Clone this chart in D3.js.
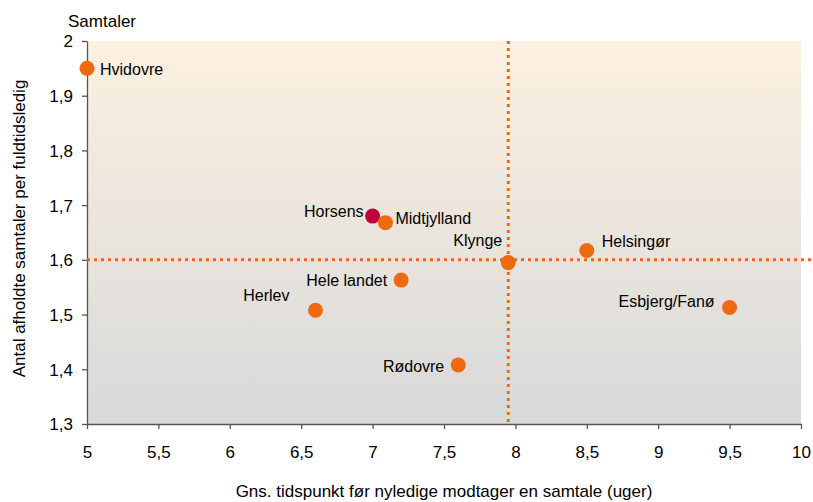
<!DOCTYPE html>
<html><head><meta charset="utf-8">
<script src="https://cdn.jsdelivr.net/npm/d3@7"></script>
<style>body{margin:0;background:#fff}svg{display:block;font-family:"Liberation Sans",Arial,sans-serif}</style>
</head><body><svg id="c" width="813" height="502"></svg>
<script>
const names = ["Hvidovre","Horsens","Midtjylland","Klynge","Helsingør","Hele landet","Herlev","Rødovre","Esbjerg/Fanø"];
const xValues = [5.0, 7.0, 7.09, 7.95, 8.5, 7.2, 6.6, 7.6, 9.5];
const yValues = [1.95, 1.68, 1.668, 1.595, 1.617, 1.563, 1.508, 1.408, 1.513];
const highlight = ["Horsens"];
const xTicks = [5,5.5,6,6.5,7,7.5,8,8.5,9,9.5,10];
const yTicks = [1.3,1.4,1.5,1.6,1.7,1.8,1.9,2];
const refX = 7.95, refY = 1.6;
// label placement: [dx, dy, anchor]
const labelPos = {
  "Hvidovre":[13,7,"start"],"Horsens":[-9,1,"end"],"Midtjylland":[10,1,"start"],
  "Klynge":[-6,-17,"end"],"Helsingør":[15,-4,"start"],"Hele landet":[-14,6,"end"],
  "Herlev":[-26,-9,"end"],"Rødovre":[-14,7,"end"],"Esbjerg/Fanø":[-15,0,"end"]
};
const svg = d3.select("#c");
const m = {l:87,r:801,t:41,b:424};
const x = d3.scaleLinear().domain([5,10]).range([m.l,m.r]);
const y = d3.scaleLinear().domain([1.3,2]).range([m.b,m.t]);
const fmt = d => String(d).replace(".",",");
const defs = svg.append("defs");
const g = defs.append("linearGradient").attr("id","bg").attr("x1",0).attr("y1",0).attr("x2",0).attr("y2",1);
g.append("stop").attr("offset","0%").attr("stop-color","#FCF0E0");
g.append("stop").attr("offset","100%").attr("stop-color","#D8D9DA");
svg.append("rect").attr("x",m.l).attr("y",m.t).attr("width",m.r-m.l).attr("height",m.b-m.t).attr("fill","url(#bg)");
const xa = svg.append("g").attr("transform",`translate(0,${m.b})`)
  .call(d3.axisBottom(x).tickValues(xTicks).tickFormat(fmt).tickSize(5).tickSizeOuter(0));
const ya = svg.append("g").attr("transform",`translate(${m.l},0)`)
  .call(d3.axisLeft(y).tickValues(yTicks).tickFormat(fmt).tickSize(5).tickSizeOuter(0));
[xa,ya].forEach(a=>{a.selectAll("path,line").attr("stroke","#555").attr("stroke-width",1.3);
  a.selectAll("text").attr("font-size",17).attr("fill","#000").attr("font-family","Liberation Sans, Arial, sans-serif");});
xa.selectAll("text").attr("y",34).attr("dy",0);
ya.selectAll("text").attr("x",-14).attr("dy","0.35em");
svg.append("line").attr("x1",x(refX)).attr("x2",x(refX)).attr("y1",m.t).attr("y2",m.b)
  .attr("stroke","#EE6A10").attr("stroke-width",3).attr("stroke-dasharray","3,4");
svg.append("line").attr("x1",m.l).attr("x2",813).attr("y1",y(refY)).attr("y2",y(refY))
  .attr("stroke","#EE6A10").attr("stroke-width",3).attr("stroke-dasharray","3,4");
const data = names.map((n,i)=>({n,x:xValues[i],y:yValues[i]}));
svg.selectAll("circle.p").data(data).join("circle").attr("class","p")
  .attr("cx",d=>x(d.x)).attr("cy",d=>y(d.y)).attr("r",7.5)
  .attr("fill",d=>highlight.includes(d.n)?"#C0003A":"#EE6A10");
svg.selectAll("text.l").data(data).join("text").attr("class","l")
  .attr("x",d=>x(d.x)+labelPos[d.n][0]).attr("y",d=>y(d.y)+labelPos[d.n][1])
  .attr("text-anchor",d=>labelPos[d.n][2]).attr("font-size",16).text(d=>d.n);
svg.append("text").attr("x",68).attr("y",27).attr("font-size",17).text("Samtaler");
svg.append("text").attr("transform",`translate(25,${(70+387)/2}) rotate(-90)`).attr("text-anchor","middle")
  .attr("font-size",17).text("Antal afholdte samtaler per fuldtidsledig");
svg.append("text").attr("x",444).attr("y",497).attr("text-anchor","middle").attr("font-size",17)
  .text("Gns. tidspunkt før nyledige modtager en samtale (uger)");
</script></body></html>
